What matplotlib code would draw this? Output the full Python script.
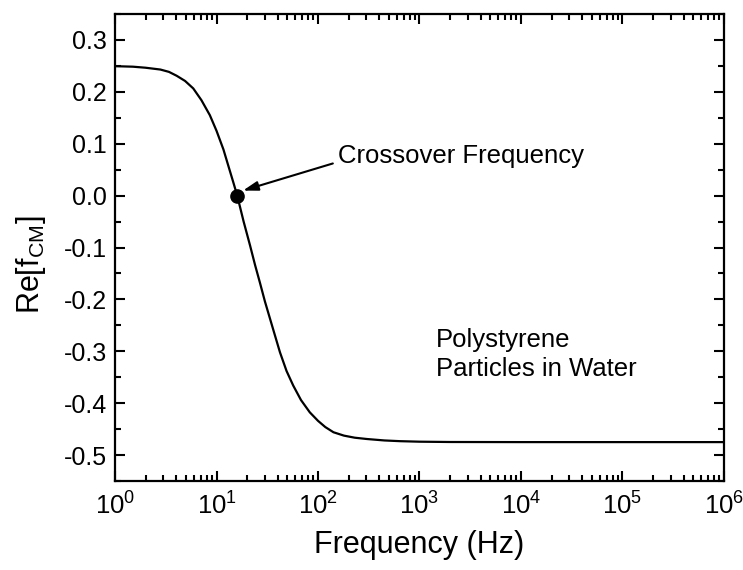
import matplotlib
matplotlib.use("Agg")
import matplotlib.pyplot as plt
from matplotlib.ticker import MultipleLocator, FixedLocator, NullFormatter

plt.rcParams['font.family'] = ['Liberation Sans', 'DejaVu Sans']
plt.rcParams['mathtext.fontset'] = 'custom'
plt.rcParams['mathtext.rm'] = 'Liberation Sans'
plt.rcParams['mathtext.it'] = 'Liberation Sans:italic'

# Data
freq_hz = [1, 1.5, 2, 2.8, 3.4, 4.05, 4.9, 5.9, 7.1, 8.6, 10, 11.7, 13.1, 14.6, 16,
           18.5, 21.4, 24, 26.8, 30, 33.7, 38, 42.2, 49, 57, 68, 83, 100, 118, 142,
           180, 230, 302, 450, 643, 1000, 2000, 1e4, 1e5, 1e6]
re_fcm = [0.2495, 0.2485, 0.2465, 0.243, 0.2385, 0.231, 0.221, 0.2066, 0.184, 0.155,
          0.125, 0.089, 0.057, 0.0264, 0.0,
          -0.050, -0.096, -0.134, -0.168, -0.204, -0.2375, -0.272, -0.302, -0.338,
          -0.366, -0.394, -0.4176, -0.434, -0.446, -0.456,
          -0.4625, -0.4665, -0.469, -0.4718, -0.4732, -0.4742, -0.4748, -0.475, -0.475, -0.475]
crossover_f = 16.0
crossover_v = 0.0
x_ticks = [1e0, 1e1, 1e2, 1e3, 1e4, 1e5, 1e6]
x_tick_labels = [r'$10^{0}$', r'$10^{1}$', r'$10^{2}$', r'$10^{3}$',
                 r'$10^{4}$', r'$10^{5}$', r'$10^{6}$']

fig = plt.figure(figsize=(7.43, 5.70), dpi=100)
ax = fig.add_axes([0.1548, 0.1561, 0.8196, 0.8193])

ax.plot(freq_hz, re_fcm, color='black', lw=1.6)
ax.plot([crossover_f], [crossover_v], 'o', color='black', ms=9.5)

ax.set_xscale('log')
ax.set_xlim(1, 1e6)
ax.set_ylim(-0.55, 0.35)

ax.yaxis.set_major_locator(MultipleLocator(0.1))
ax.yaxis.set_minor_locator(MultipleLocator(0.05))
ax.set_xticks(x_ticks)
ax.set_xticklabels(x_tick_labels)
minor_x = [m * d for d in x_ticks[:-1] for m in range(2, 10)]
ax.xaxis.set_minor_locator(FixedLocator(minor_x))
ax.xaxis.set_minor_formatter(NullFormatter())

def yfmt(v, pos):
    s = f"{v:.1f}"
    if s == "-0.0":
        s = "0.0"
    return s
ax.yaxis.set_major_formatter(plt.FuncFormatter(yfmt))

ax.tick_params(which='both', direction='in', top=True, right=True, width=1.5)
ax.tick_params(which='major', length=7)
ax.tick_params(which='minor', length=4)
ax.tick_params(axis='y', which='major', labelsize=18, pad=6)
ax.tick_params(axis='x', which='major', labelsize=18.5, pad=8)
for sp in ax.spines.values():
    sp.set_linewidth(1.6)

ax.set_xlabel('Frequency (Hz)', fontsize=22, labelpad=8)
ax.set_ylabel(r'Re[f$_{\mathrm{CM}}$]', fontsize=22)
ax.yaxis.set_label_coords(-0.11, 0.4625)

ax.annotate('', xy=(18.2, 0.0097), xytext=(140, 0.062),
            arrowprops=dict(arrowstyle='-|>,head_length=0.9,head_width=0.28',
                            color='black', lw=1.5, shrinkA=0, shrinkB=0))
ax.text(157, 0.077, 'Crossover Frequency', fontsize=18.5, ha='left', va='center')

ax.text(0.527, 0.271, 'Polystyrene\nParticles in Water', transform=ax.transAxes,
        fontsize=18.5, ha='left', va='center', linespacing=1.3)

fig.savefig('out.png', dpi=100)
